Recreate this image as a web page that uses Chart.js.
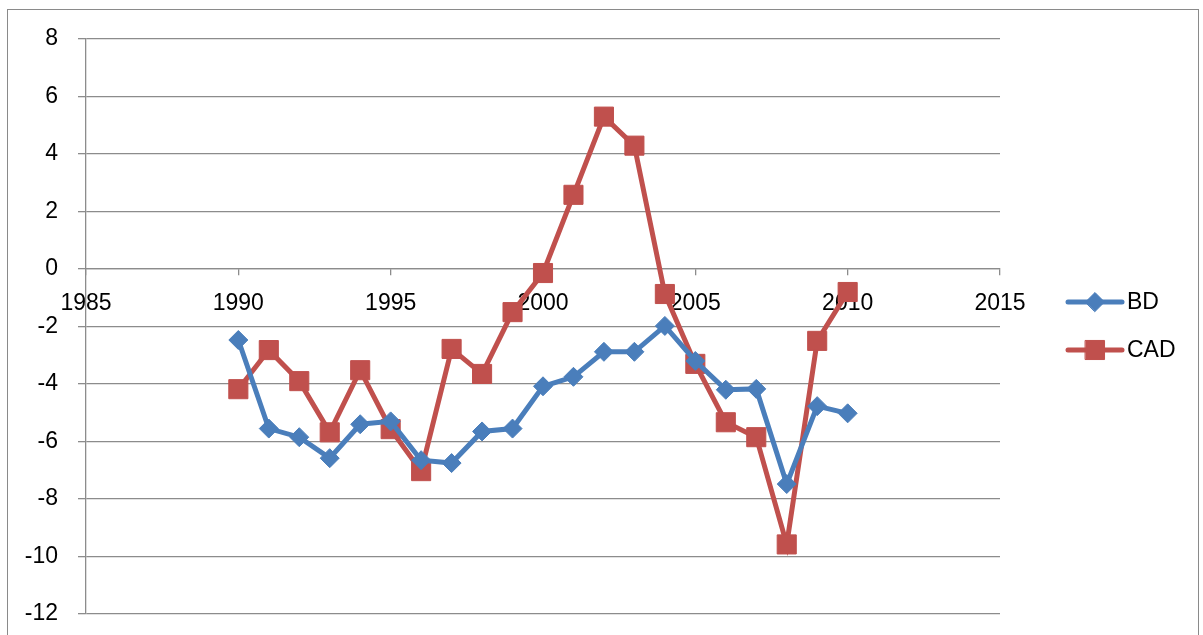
<!DOCTYPE html>
<html>
<head>
<meta charset="utf-8">
<script src="https://cdn.jsdelivr.net/npm/chart.js@4/dist/chart.umd.min.js"></script>
<style>
  body { margin: 0; background: #fff; overflow: hidden; }
  #wrap { position: relative; width: 1203px; height: 635px; }
  #frame { position: absolute; left: 7px; top: 9px; width: 1190px; height: 640px; border: 1px solid #8a8a8a; }
  canvas { position: absolute; left: 0; top: 0; }
</style>
</head>
<body>
<div id="wrap">
  <div id="frame"></div>
  <canvas id="chrt" width="1203" height="635"></canvas>
</div>
<script>
var years = [1990, 1991, 1992, 1993, 1994, 1995, 1996, 1997, 1998, 1999, 2000,
             2001, 2002, 2003, 2004, 2005, 2006, 2007, 2008, 2009, 2010]
var bd = [-2.47, -5.55, -5.85, -6.58, -5.4, -5.3, -6.65, -6.75, -5.65, -5.55, -4.08,
          -3.75, -2.88, -2.88, -1.98, -3.2, -4.2, -4.17, -7.48, -4.77, -5.02]
var cad = [-4.18, -2.82, -3.9, -5.68, -3.52, -5.57, -7.03, -2.78, -3.65, -1.5, -0.14,
           2.58, 5.3, 4.29, -0.87, -3.3, -5.33, -5.85, -9.58, -2.5, -0.8]
var seriesNames = ['BD', 'CAD']
var blue = '#4a7ebb'
var red = '#c0504d'
var gridGray = '#8c8c8c'
var font = { family: 'Liberation Sans', size: 23 }

function toPoints(vals) {
  return years.map((y, i) => ({ x: y, y: vals[i] }))
}

// legend at the right: line + marker + label
const SideLegend = {
  id: 'SideLegend',
  afterDraw(chart) {
    const ctx = chart.ctx
    const x0 = 1068, x1 = 1122
    chart.data.datasets.forEach((ds, i) => {
      var y = 302 + i * 48
      ctx.save()
      ctx.strokeStyle = ds.borderColor
      ctx.lineWidth = 5
      ctx.lineCap = 'round'
      ctx.beginPath()
      ctx.moveTo(x0, y)
      ctx.lineTo(x1, y)
      ctx.stroke()
      ctx.fillStyle = ds.backgroundColor
      ctx.lineWidth = 1
      Chart.helpers.drawPoint(ctx, { pointStyle: ds.pointStyle, radius: ds.pointRadius, borderWidth: 1 }, (x0 + x1) / 2, y)
      ctx.fillStyle = '#000'
      ctx.font = font.size + 'px ' + font.family
      ctx.textBaseline = 'middle'
      ctx.textAlign = 'left'
      ctx.fillText(ds.label, 1127, y + 1)
      ctx.restore()
    })
  }
}

const _data = {
  datasets: [{
    label: seriesNames[0],
    data: toPoints(bd),
    borderColor: blue,
    backgroundColor: blue,
    borderWidth: 5,
    pointStyle: 'rectRot',
    pointRadius: 9.5,
    pointBorderWidth: 1,
    tension: 0
  }, {
    label: seriesNames[1],
    data: toPoints(cad),
    borderColor: red,
    backgroundColor: red,
    borderWidth: 5,
    pointStyle: 'rect',
    pointRadius: 13.5,
    pointBorderWidth: 1,
    tension: 0
  }]
}

const _config = {
  type: 'line',
  data: _data,
  plugins: [SideLegend],
  options: {
    responsive: false,
    animation: false,
    layout: { padding: { left: 0, top: 39, right: 203, bottom: 21 } },
    plugins: { legend: { display: false }, tooltip: { enabled: false } },
    scales: {
      x: {
        type: 'linear',
        position: { y: 0 },
        min: 1985,
        max: 2015,
        ticks: { stepSize: 5, color: '#000', font: font, padding: 15, maxRotation: 0,
                 callback: v => String(v) },
        grid: { drawOnChartArea: false, drawTicks: true, tickLength: 6, color: gridGray, lineWidth: 1.3 },
        border: { color: gridGray, width: 1.3 },
        afterFit: function(scale) { scale.paddingTop = 0; scale.paddingBottom = 0 }
      },
      y: {
        min: -12,
        max: 8,
        ticks: { stepSize: 2, color: '#000', font: font, padding: 20 },
        grid: { color: gridGray, lineWidth: 1.3, tickLength: 8 },
        border: { color: gridGray, width: 1.3 },
        afterFit: function(scale) { scale.width = 86; scale.paddingTop = 0; scale.paddingBottom = 0 }
      }
    }
  }
}

const myChart = new Chart(document.getElementById('chrt'), _config)
</script>
</body>
</html>
